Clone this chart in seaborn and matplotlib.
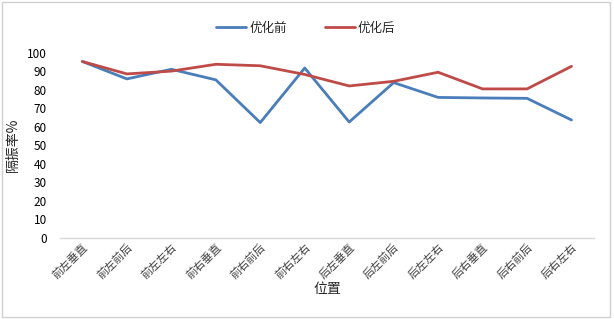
import matplotlib
matplotlib.use("Agg")
import matplotlib.pyplot as plt
import seaborn as sns
import pandas as pd

positions = ["前左垂直", "前左前后", "前左左右", "前右垂直", "前右前后", "前右左右",
             "后左垂直", "后左前后", "后左左右", "后右垂直", "后右前后", "后右左右"]
before = [95.2, 85.8, 91.0, 85.3, 62.2, 91.7, 62.5, 83.8, 75.8, 75.5, 75.3, 63.6]
after = [95.2, 88.5, 90.0, 93.7, 92.9, 88.2, 82.0, 84.5, 89.4, 80.4, 80.4, 92.6]
series_names = ["优化前", "优化后"]

df = pd.DataFrame({
    "位置": positions * 2,
    "隔振率": before + after,
    "系列": [series_names[0]] * len(positions) + [series_names[1]] * len(positions),
})

sns.set_style("white")
plt.rcParams["font.family"] = ["Noto Sans CJK SC", "DejaVu Sans"]

fig = plt.figure(figsize=(6.14, 3.19), dpi=100)
ax = fig.add_axes([0.098, 0.255, 0.869, 0.58])

sns.lineplot(data=df, x="位置", y="隔振率", hue="系列", sort=False,
             palette=["#4a7ebb", "#be4b48"], linewidth=2.0, ax=ax)

ax.set_xlim(-0.5, len(positions) - 0.5)
ax.set_ylim(0, 100)
ax.set_yticks(range(0, 101, 10))
ax.tick_params(axis="y", labelsize=8.5, length=0, pad=9.5, colors="#000000")
ax.tick_params(axis="x", labelsize=8, length=0, pad=3)
for lbl in ax.get_xticklabels():
    lbl.set_rotation(45)
    lbl.set_ha("right")
    lbl.set_rotation_mode("anchor")
    lbl.set_color("#404040")

for s in ["top", "right", "left"]:
    ax.spines[s].set_visible(False)
ax.spines["bottom"].set_color("#d9d9d9")
ax.spines["bottom"].set_linewidth(1.0)

ax.set_xlabel("位置", fontsize=10, labelpad=1)
ax.set_ylabel("隔振率%", fontsize=10, labelpad=5)

handles, labels = ax.get_legend_handles_labels()
ax.get_legend().remove()
leg = fig.legend(handles, labels, loc="center", bbox_to_anchor=(0.498, 0.912), ncol=2,
                 frameon=False, fontsize=9, handlelength=2.4, columnspacing=3.0,
                 handletextpad=0.25)
for line in leg.get_lines():
    line.set_linewidth(2.0)

fig.patches.append(plt.Rectangle((0.004, 0.006), 0.99, 0.988, transform=fig.transFigure,
                                 fill=False, edgecolor="#d0d0d0", linewidth=1.0))

fig.savefig("out.png", dpi=100)
